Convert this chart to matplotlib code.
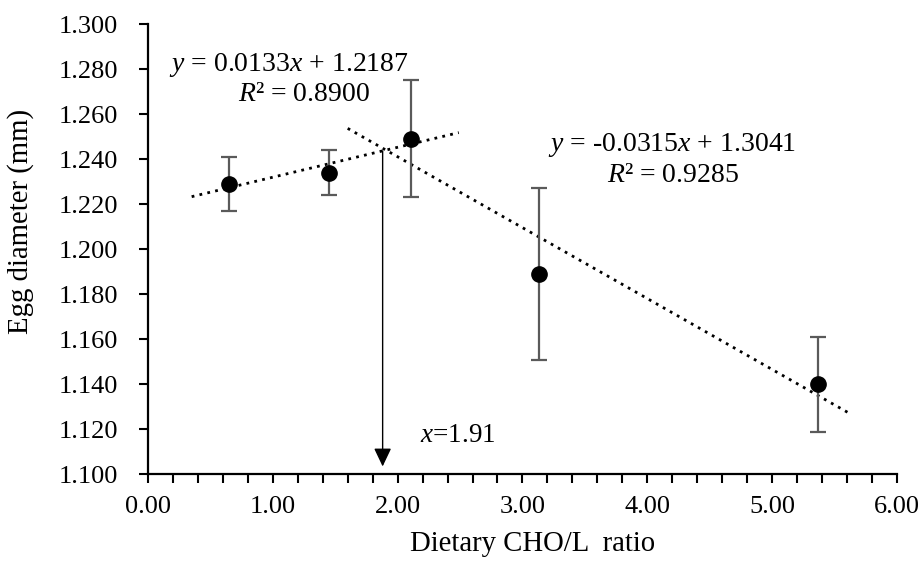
import matplotlib.pyplot as plt
import numpy as np
from matplotlib.ticker import MultipleLocator, FormatStrFormatter

plt.rcParams['font.family'] = ['Liberation Serif', 'DejaVu Serif']
plt.rcParams['mathtext.fontset'] = 'custom'
plt.rcParams['mathtext.it'] = 'Liberation Serif:italic'
plt.rcParams['mathtext.rm'] = 'Liberation Serif'

# data
cho_ratio = [0.65, 1.45, 2.11, 3.13, 5.37]
egg_diameter = [1.229, 1.234, 1.249, 1.189, 1.140]
egg_sd = [0.012, 0.010, 0.026, 0.038, 0.021]

# broken-line regression (slope, intercept) and drawn x-range of each segment
fit_low = (0.0133, 1.2187)
fit_low_range = [0.35, 2.49]
fit_high = (-0.0315, 1.3041)
fit_high_range = [1.60, 5.62]
break_x = 1.88
break_label = '1.91'

fig = plt.figure(figsize=(9.19, 5.62), dpi=100)
ax = fig.add_axes((0.161, 0.156, 0.815, 0.801))

ax.errorbar(cho_ratio, egg_diameter, yerr=egg_sd, fmt='none', ecolor='#5a5a5a',
            elinewidth=1.6, capsize=5.5, capthick=1.6, zorder=2)
ax.plot(cho_ratio, egg_diameter, 'o', color='black', markersize=11, zorder=3)

for (slope, icpt), xr in [(fit_low, fit_low_range), (fit_high, fit_high_range)]:
    xs = np.array(xr)
    ax.plot(xs, slope * xs + icpt, color='black', lw=2.0,
            linestyle=(0, (1, 1.9)), zorder=1)

# arrow from the intersection down to the x-axis
y_top = fit_low[0] * break_x + fit_low[1]
ax.annotate('', xy=(break_x, 1.1035), xytext=(break_x, y_top),
            arrowprops=dict(arrowstyle='-|>,head_length=0.8,head_width=0.38',
                            mutation_scale=14, color='black', lw=1.0,
                            shrinkA=0, shrinkB=0))
ax.text(2.18, 1.1173, '$x$=' + break_label, fontsize=19.5, va='center', ha='left')

ax.text(1.13, 1.2818, '$y$ = 0.0133$x$ + 1.2187', fontsize=20, ha='center', va='center')
ax.text(1.25, 1.2689, '$R$² = 0.8900', fontsize=20, ha='center', va='center')
ax.text(4.2, 1.2462, '$y$ = -0.0315$x$ + 1.3041', fontsize=20, ha='center', va='center')
ax.text(4.21, 1.2329, '$R$² = 0.9285', fontsize=20, ha='center', va='center')

ax.set_xlim(0, 6)
ax.set_ylim(1.1, 1.3)
ax.xaxis.set_major_locator(MultipleLocator(1))
ax.xaxis.set_minor_locator(MultipleLocator(0.2))
ax.xaxis.set_major_formatter(FormatStrFormatter('%.2f'))
ax.yaxis.set_major_locator(MultipleLocator(0.02))
ax.yaxis.set_major_formatter(FormatStrFormatter('%.3f'))

for side in ['top', 'right']:
    ax.spines[side].set_visible(False)
for side in ['left', 'bottom']:
    ax.spines[side].set_linewidth(1.6)

ax.tick_params(axis='both', which='both', direction='out', length=6.3, width=1.5,
               labelsize=19)
ax.tick_params(axis='x', which='both', pad=9)
ax.tick_params(axis='y', pad=15)

ax.set_xlabel('Dietary CHO/L  ratio', fontsize=20.7)
ax.xaxis.set_label_coords(0.513, -0.127)
ax.set_ylabel('Egg diameter (mm)', fontsize=20.7)
ax.yaxis.set_label_coords(-0.152, 0.5625)

fig.savefig('out.png', dpi=100)
